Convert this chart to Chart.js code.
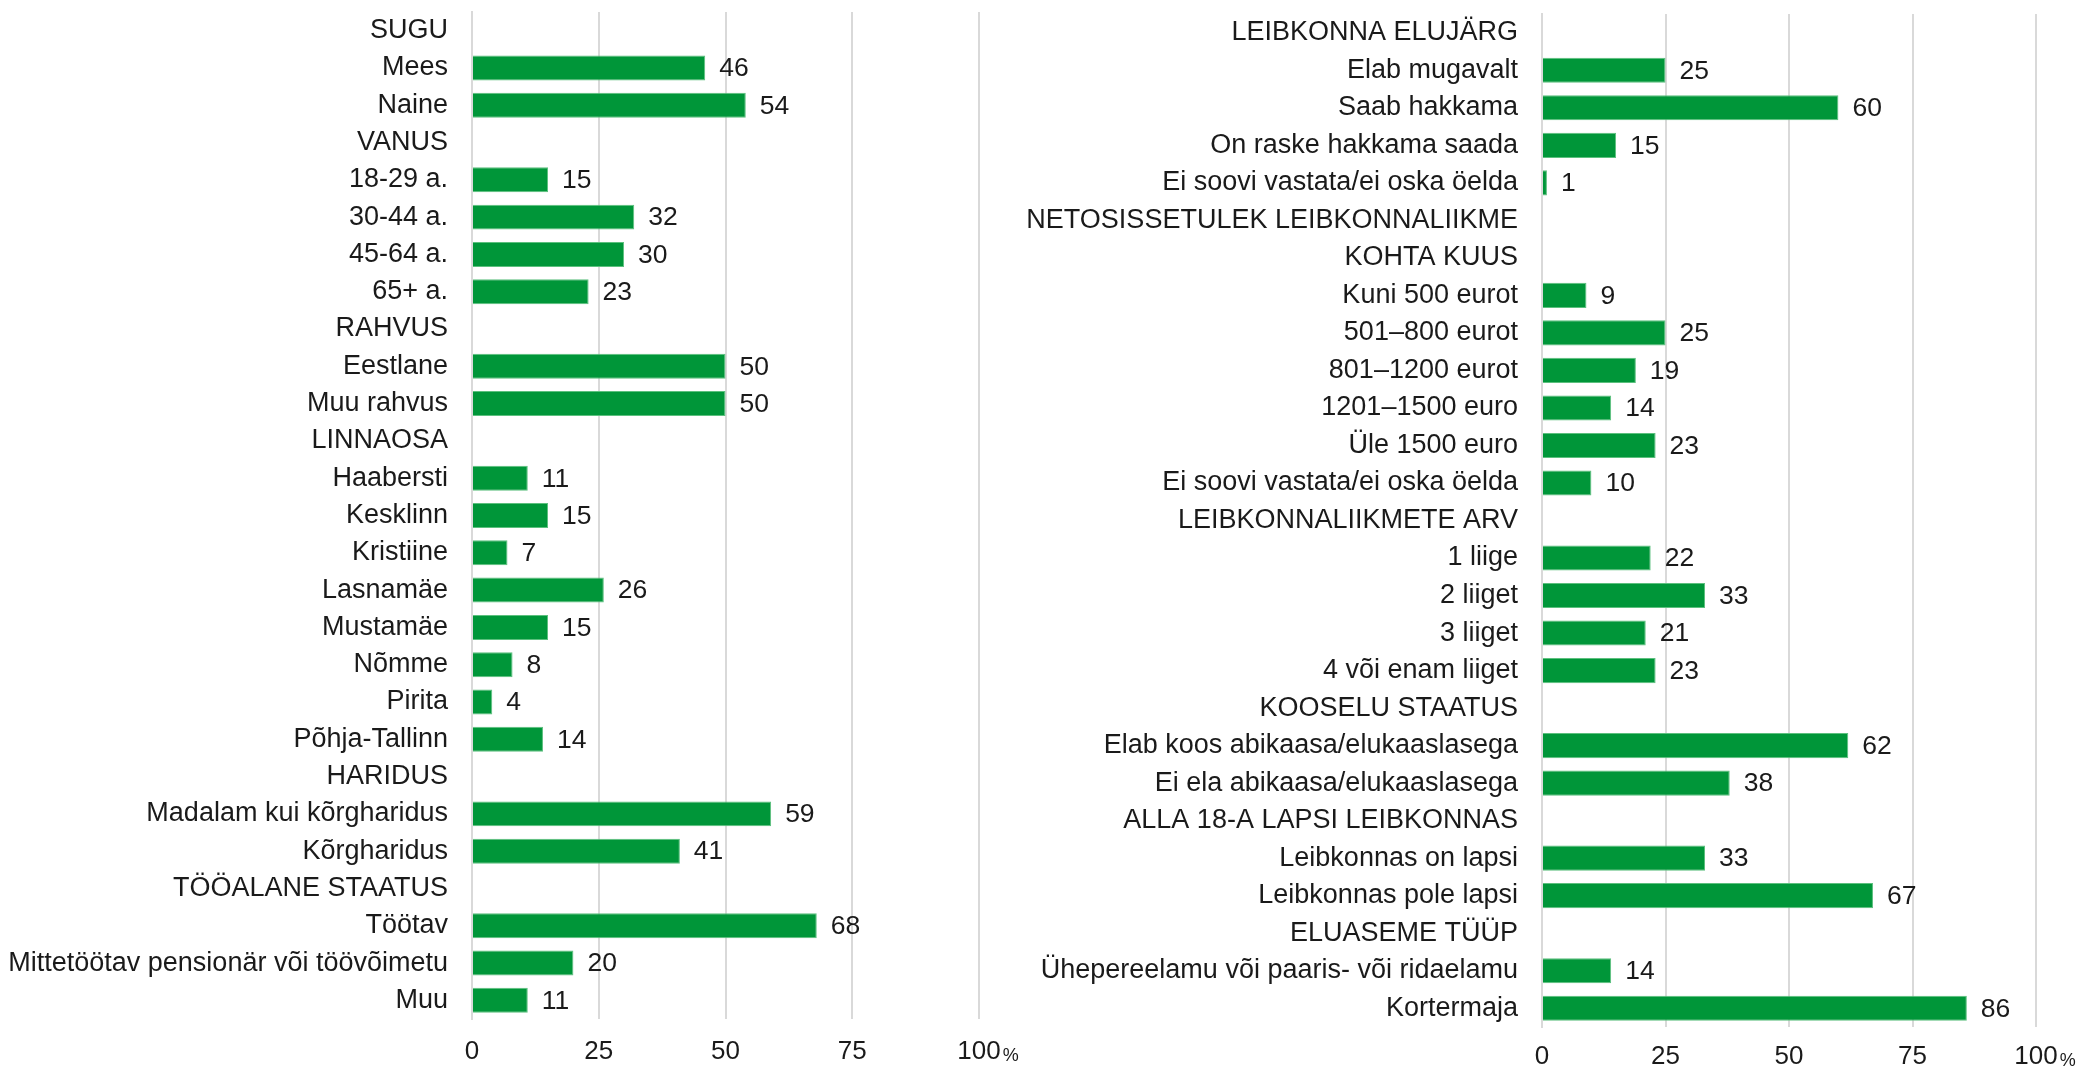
<!DOCTYPE html>
<html>
<head>
<meta charset="utf-8">
<script src="https://cdn.jsdelivr.net/npm/chart.js@4.4.1/dist/chart.umd.min.js"></script>
<style>
  body { margin: 0; background: #fff; }
  canvas { position: absolute; top: 0; }
</style>
</head>
<body>
<canvas id="leftChart" width="1040" height="1067" style="left:0"></canvas>
<canvas id="rightChart" width="1080" height="1067" style="left:1000px"></canvas>
<script>
// Left panel: respondent groups (null = section header row)
const leftLabels = [
    'SUGU', 'Mees', 'Naine',
    'VANUS', '18-29 a.', '30-44 a.', '45-64 a.', '65+ a.',
    'RAHVUS', 'Eestlane', 'Muu rahvus',
    'LINNAOSA', 'Haabersti', 'Kesklinn', 'Kristiine', 'Lasnamäe', 'Mustamäe', 'Nõmme', 'Pirita', 'Põhja-Tallinn',
    'HARIDUS', 'Madalam kui kõrgharidus', 'Kõrgharidus',
    'TÖÖALANE STAATUS', 'Töötav', 'Mittetöötav pensionär või töövõimetu', 'Muu'
];
const leftValues = [
    null, 46, 54,
    null, 15, 32, 30, 23,
    null, 50, 50,
    null, 11, 15, 7, 26, 15, 8, 4, 14,
    null, 59, 41,
    null, 68, 20, 11
];

// Right panel: household groups
const rightLabels = [
    'LEIBKONNA ELUJÄRG', 'Elab mugavalt', 'Saab hakkama', 'On raske hakkama saada', 'Ei soovi vastata/ei oska öelda',
    'NETOSISSETULEK LEIBKONNALIIKME', 'KOHTA KUUS', 'Kuni 500 eurot', '501–800 eurot', '801–1200 eurot', '1201–1500 euro', 'Üle 1500 euro', 'Ei soovi vastata/ei oska öelda',
    'LEIBKONNALIIKMETE ARV', '1 liige', '2 liiget', '3 liiget', '4 või enam liiget',
    'KOOSELU STAATUS', 'Elab koos abikaasa/elukaaslasega', 'Ei ela abikaasa/elukaaslasega',
    'ALLA 18-A LAPSI LEIBKONNAS', 'Leibkonnas on lapsi', 'Leibkonnas pole lapsi',
    'ELUASEME TÜÜP', 'Ühepereelamu või paaris- või ridaelamu', 'Kortermaja'
];
const rightValues = [
    null, 25, 60, 15, 1,
    null, null, 9, 25, 19, 14, 23, 10,
    null, 22, 33, 21, 23,
    null, 62, 38,
    null, 33, 67,
    null, 14, 86
];

const tickValues = [0, 25, 50, 75, 100];

const FONT = "'Liberation Sans', Arial, sans-serif";
const TEXT = '#1a1a1a';
const GREEN = '#009639';
const GRID = '#d9d9d9';

// value labels to the right of each bar
const valueLabels = {
    id: 'valueLabels',
    afterDatasetsDraw(chart) {
        const c = chart.ctx;
        const meta = chart.getDatasetMeta(0);
        const data = chart.data.datasets[0].data;
        c.save();
        c.font = '26.5px ' + FONT;
        c.fillStyle = TEXT;
        c.textAlign = 'left';
        c.textBaseline = 'middle';
        meta.data.forEach((bar, i) => {
            if (data[i] === null) return;
            c.fillText(String(data[i]), bar.x + 14, bar.y + 1);
        });
        c.restore();
    }
};

// small % sign after the "100" tick
const percentSign = {
    id: 'percentSign',
    afterDraw(chart) {
        const x = chart.scales.x;
        const c = chart.ctx;
        const px = x.getPixelForValue(100);
        c.save();
        c.font = '26px ' + FONT;
        const w = c.measureText('100').width;
        const center = x.top + x.options.ticks.padding + 15.6;
        c.font = '18px ' + FONT;
        c.fillStyle = TEXT;
        c.textAlign = 'left';
        c.textBaseline = 'alphabetic';
        c.fillText('%', px + w / 2 + 2, center + 9.3);
        c.restore();
    }
};

function makeChart(id, labels, values, axisWidth, padRight, padTop, plotBottom, tickPad) {
    return new Chart(document.getElementById(id).getContext('2d'), {
        type: 'bar',
        data: {
            labels: labels,
            datasets: [{
                data: values,
                backgroundColor: GREEN,
                borderColor: '#5cc07e',
                borderWidth: 1,
                barPercentage: 0.67,
                categoryPercentage: 1
            }]
        },
        options: {
            indexAxis: 'y',
            responsive: false,
            animation: false,
            layout: { padding: { top: padTop, right: padRight, left: 0, bottom: 0 } },
            plugins: { legend: { display: false }, tooltip: { enabled: false } },
            scales: {
                x: {
                    min: 0,
                    max: 100,
                    afterBuildTicks: (scale) => { scale.ticks = tickValues.map(v => ({ value: v })); },
                    afterFit: (scale) => {
                        scale.height = 1067 - plotBottom;
                        scale.paddingLeft = 0;
                        scale.paddingRight = 0;
                    },
                    grid: { color: GRID, lineWidth: 2, drawTicks: false },
                    border: { display: false },
                    ticks: { padding: tickPad, color: TEXT, font: { family: FONT, size: 26 } }
                },
                y: {
                    afterFit: (scale) => {
                        scale.width = axisWidth;
                        scale.paddingTop = 0;
                        scale.paddingBottom = 0;
                    },
                    grid: { display: false, drawTicks: false },
                    border: { display: true, color: GRID, width: 2 },
                    ticks: { padding: 24, color: TEXT, autoSkip: false, font: { family: FONT, size: 27 } }
                }
            }
        },
        plugins: [valueLabels, percentSign]
    });
}

makeChart('leftChart', leftLabels, leftValues, 472, 61, 12, 1019, 17);
makeChart('rightChart', rightLabels, rightValues, 542, 44, 14, 1027, 14);
</script>
</body>
</html>
